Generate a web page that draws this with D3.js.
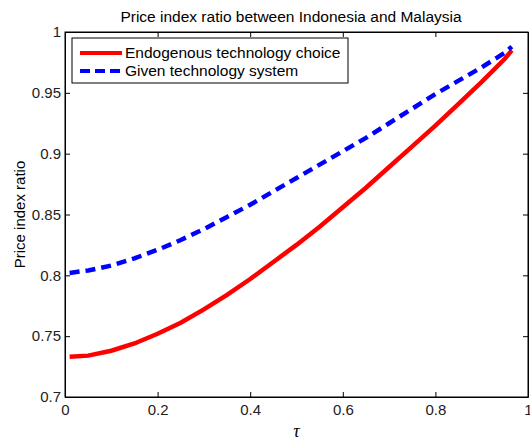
<!DOCTYPE html>
<html>
<head>
<meta charset="utf-8">
<script src="https://cdnjs.cloudflare.com/ajax/libs/d3/7.8.5/d3.min.js"></script>
<style>
body { margin: 0; background: #fff; }
svg text { font-family: "Liberation Sans", Arial, sans-serif; fill: #000; }
.tick text { font-size: 15px; fill: #222; }
</style>
</head>
<body>
<div id="chart"></div>
<script>
var tau = [0.01, 0.05, 0.1, 0.15, 0.2, 0.25, 0.3, 0.35, 0.4, 0.45, 0.5, 0.55, 0.6, 0.65, 0.7, 0.75, 0.8, 0.85, 0.9, 0.95, 0.965];
var endogenous = [0.733, 0.734, 0.738, 0.744, 0.752, 0.761, 0.772, 0.784, 0.797, 0.811, 0.825, 0.840, 0.856, 0.872, 0.889, 0.906, 0.923, 0.941, 0.959, 0.978, 0.985];
var given = [0.802, 0.804, 0.808, 0.814, 0.821, 0.829, 0.838, 0.848, 0.858, 0.869, 0.880, 0.891, 0.902, 0.913, 0.925, 0.937, 0.949, 0.960, 0.971, 0.983, 0.988];
var xTicks = [0, 0.2, 0.4, 0.6, 0.8, 1];
var yTicks = [0.7, 0.75, 0.8, 0.85, 0.9, 0.95, 1];
var seriesNames = ["Endogenous technology choice", "Given technology system"];

var width = 530, height = 443;
var margin = {top: 32, right: 2, bottom: 46, left: 65};
var w = width - margin.left - margin.right,
    h = height - margin.top - margin.bottom;

var svg = d3.select("#chart").append("svg")
  .attr("width", width)
  .attr("height", height);

var g = svg.append("g")
  .attr("transform", "translate(" + margin.left + "," + margin.top + ")");

var x = d3.scaleLinear().domain([0, 1]).range([0, w]);
var y = d3.scaleLinear().domain([0.7, 1]).range([h, 0]);

var fmt = function(d) { return d3.format("~g")(d); };

// axes, ticks pointing inward like matlab
g.append("g").attr("transform", "translate(0," + h + ")")
  .call(d3.axisBottom(x).tickValues(xTicks).tickFormat(fmt).tickSizeInner(-5).tickSizeOuter(0).tickPadding(7));
g.append("g")
  .call(d3.axisTop(x).tickValues(xTicks).tickFormat("").tickSizeInner(-5).tickSizeOuter(0));
g.append("g")
  .call(d3.axisLeft(y).tickValues(yTicks).tickFormat(fmt).tickSizeInner(-5).tickSizeOuter(0).tickPadding(4));
g.append("g").attr("transform", "translate(" + w + ",0)")
  .call(d3.axisRight(y).tickValues(yTicks).tickFormat("").tickSizeInner(-5).tickSizeOuter(0));

g.selectAll(".domain").attr("stroke", "#000");
g.selectAll(".tick line").attr("stroke", "#000");

g.append("rect")
  .attr("width", w).attr("height", h)
  .attr("fill", "none").attr("stroke", "#000");

var line = d3.line()
  .x(function(d) { return x(d[0]); })
  .y(function(d) { return y(d[1]); });

g.append("path")
  .datum(d3.zip(tau, endogenous))
  .attr("d", line)
  .attr("fill", "none")
  .attr("stroke", "#ff0000")
  .attr("stroke-width", 4.5);

g.append("path")
  .datum(d3.zip(tau, given))
  .attr("d", line)
  .attr("fill", "none")
  .attr("stroke", "#0000ff")
  .attr("stroke-width", 4.5)
  .attr("stroke-dasharray", "10,6");

// title and labels
svg.append("text")
  .attr("x", 291).attr("y", 22)
  .attr("text-anchor", "middle")
  .style("font-size", "15.5px")
  .text("Price index ratio between Indonesia and Malaysia");

svg.append("text")
  .attr("transform", "translate(25," + (margin.top + h / 2) + ") rotate(-90)")
  .attr("text-anchor", "middle")
  .style("font-size", "15px")
  .text("Price index ratio");

svg.append("text")
  .attr("x", margin.left + w / 2).attr("y", 437)
  .attr("text-anchor", "middle")
  .style("font-family", "'Liberation Serif', serif")
  .style("font-style", "italic")
  .style("font-size", "18px")
  .text("τ");

// legend
var legend = g.append("g").attr("transform", "translate(7,6)");
legend.append("rect")
  .attr("width", 276).attr("height", 45)
  .attr("fill", "#fff").attr("stroke", "#000");
var styles = [{c: "#ff0000", dash: null}, {c: "#0000ff", dash: "10,5"}];
seriesNames.forEach(function(name, i) {
  var yy = 15 + i * 18;
  legend.append("line")
    .attr("x1", 8).attr("x2", 50).attr("y1", yy).attr("y2", yy)
    .attr("stroke", styles[i].c).attr("stroke-width", 4)
    .attr("stroke-dasharray", styles[i].dash);
  legend.append("text")
    .attr("x", 53).attr("y", yy).attr("dy", "0.35em")
    .style("font-size", "15.5px")
    .text(name);
});
</script>
</body>
</html>
